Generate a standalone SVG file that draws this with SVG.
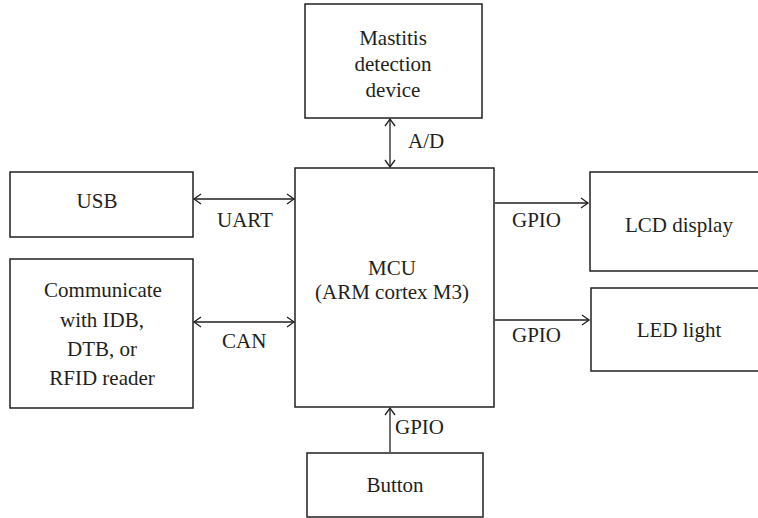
<svg xmlns="http://www.w3.org/2000/svg" width="758" height="518" viewBox="0 0 758 518">
<style>
.box{fill:#fff;stroke:#231f20;stroke-width:1.5}
.t{font-family:'Liberation Serif','Times New Roman',serif;font-size:21px;fill:#231f20;text-anchor:middle}
.l{font-family:'Liberation Serif','Times New Roman',serif;font-size:21px;fill:#231f20}
.c{stroke:#231f20;stroke-width:1.3;fill:none}
</style>
<defs>
<marker id="ah" markerUnits="userSpaceOnUse" markerWidth="12" markerHeight="12" refX="9" refY="6" orient="auto-start-reverse">
<path d="M2,1 L9,6 L2,11" fill="none" stroke="#231f20" stroke-width="1.3"/>
</marker>
</defs>
<g id="mastitis"><rect class="box" x="305" y="4" width="177" height="114"/>
<text class="t" x="393" y="45">Mastitis</text><text class="t" x="393" y="71">detection</text><text class="t" x="393" y="97">device</text></g>
<g id="mcu"><rect class="box" x="295" y="168" width="199" height="239"/>
<text class="t" x="392" y="275">MCU</text><text class="t" x="392" y="299">(ARM cortex M3)</text></g>
<g id="usb"><rect class="box" x="10" y="172" width="183" height="65"/>
<text class="t" x="97" y="208">USB</text></g>
<g id="comm"><rect class="box" x="10" y="259" width="183" height="149"/>
<text class="t" x="103" y="297">Communicate</text><text class="t" x="102" y="327">with IDB,</text><text class="t" x="102" y="356">DTB, or</text><text class="t" x="102" y="385">RFID reader</text></g>
<g id="lcd"><rect class="box" x="590" y="172" width="175" height="99"/>
<text class="t" x="679" y="232">LCD display</text></g>
<g id="led"><rect class="box" x="591" y="288" width="175" height="83"/>
<text class="t" x="679" y="337">LED light</text></g>
<g id="button"><rect class="box" x="307" y="453" width="176" height="64"/>
<text class="t" x="395" y="492">Button</text></g>
<g id="connectors">
<line class="c" x1="390" y1="119" x2="390" y2="167" marker-start="url(#ah)" marker-end="url(#ah)"/>
<line class="c" x1="194" y1="199" x2="294" y2="199" marker-start="url(#ah)" marker-end="url(#ah)"/>
<line class="c" x1="194" y1="322" x2="294" y2="322" marker-start="url(#ah)" marker-end="url(#ah)"/>
<line class="c" x1="495" y1="203" x2="588" y2="203" marker-end="url(#ah)"/>
<line class="c" x1="495" y1="320" x2="589" y2="320" marker-end="url(#ah)"/>
<line class="c" x1="390" y1="452" x2="390" y2="408" marker-end="url(#ah)"/>
<text class="l" x="408" y="148">A/D</text>
<text class="l" x="217" y="227">UART</text>
<text class="l" x="222" y="348">CAN</text>
<text class="l" x="512" y="227">GPIO</text>
<text class="l" x="512" y="342">GPIO</text>
<text class="l" x="395" y="434">GPIO</text>
</g>
</svg>
